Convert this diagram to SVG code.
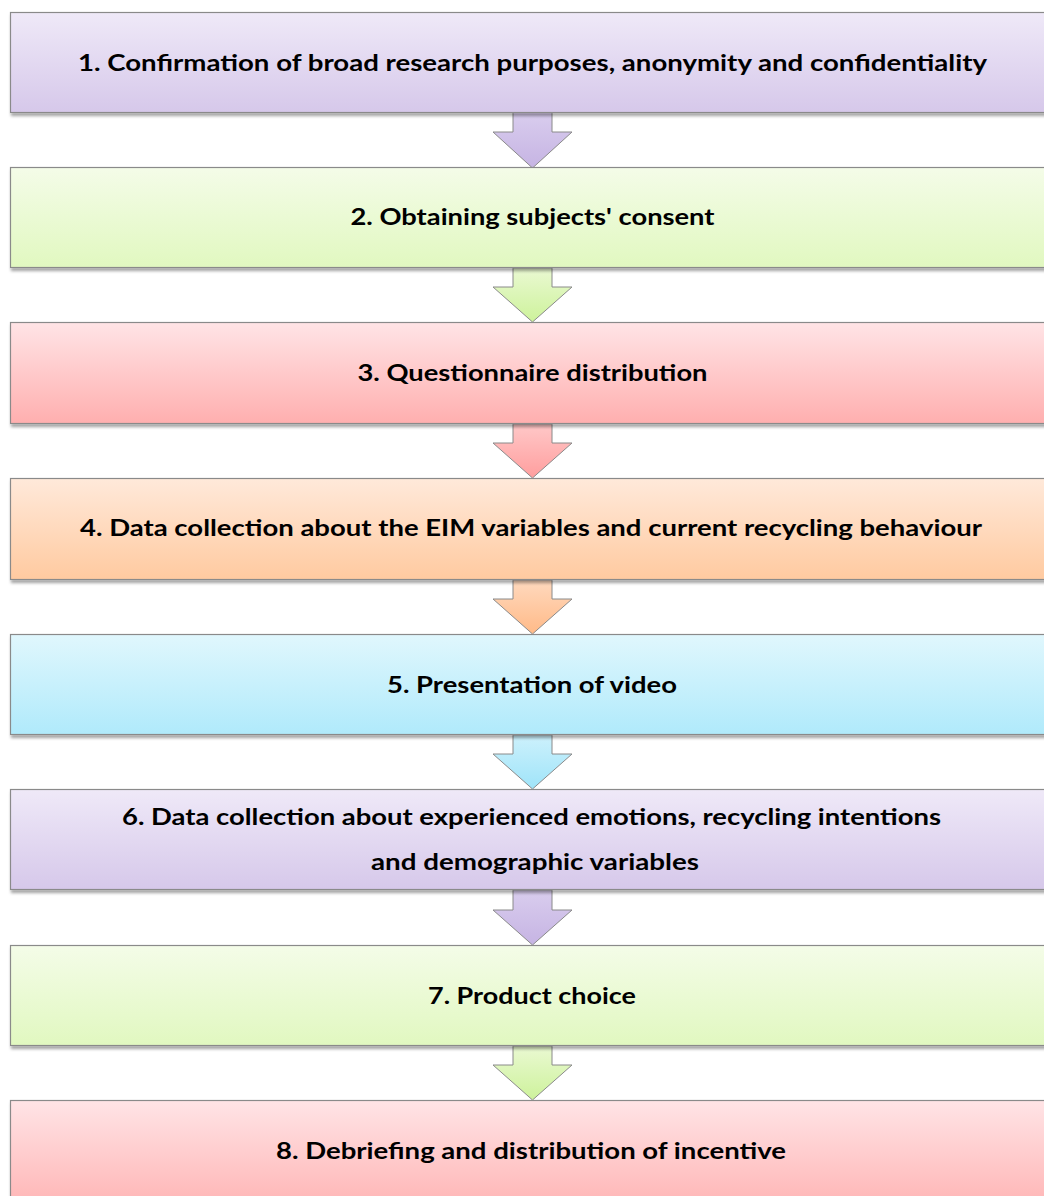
<svg xmlns="http://www.w3.org/2000/svg" width="1044" height="1196" viewBox="0 0 1044 1196">
<defs>
<linearGradient id="gPur" x1="0" y1="0" x2="0" y2="1"><stop offset="0" stop-color="#EFE9F8"/><stop offset="1" stop-color="#D6C8EA"/></linearGradient>
<linearGradient id="gGrn" x1="0" y1="0" x2="0" y2="1"><stop offset="0" stop-color="#F4FCE8"/><stop offset="1" stop-color="#E1F8C0"/></linearGradient>
<linearGradient id="gRed" x1="0" y1="0" x2="0" y2="1"><stop offset="0" stop-color="#FFE4E6"/><stop offset="1" stop-color="#FFAFAF"/></linearGradient>
<linearGradient id="gOra" x1="0" y1="0" x2="0" y2="1"><stop offset="0" stop-color="#FFE9DA"/><stop offset="1" stop-color="#FFCAA0"/></linearGradient>
<linearGradient id="gCya" x1="0" y1="0" x2="0" y2="1"><stop offset="0" stop-color="#E0F7FD"/><stop offset="1" stop-color="#B0EAFB"/></linearGradient>
<linearGradient id="aPur" x1="0" y1="0" x2="0" y2="1"><stop offset="0" stop-color="#D9CDEE"/><stop offset="1" stop-color="#C6B4E3"/></linearGradient>
<linearGradient id="aGrn" x1="0" y1="0" x2="0" y2="1"><stop offset="0" stop-color="#EAF9D2"/><stop offset="1" stop-color="#CDF29B"/></linearGradient>
<linearGradient id="aRed" x1="0" y1="0" x2="0" y2="1"><stop offset="0" stop-color="#FFC8C8"/><stop offset="1" stop-color="#FF9E9E"/></linearGradient>
<linearGradient id="aOra" x1="0" y1="0" x2="0" y2="1"><stop offset="0" stop-color="#FFD9BE"/><stop offset="1" stop-color="#FFBA88"/></linearGradient>
<linearGradient id="aCya" x1="0" y1="0" x2="0" y2="1"><stop offset="0" stop-color="#CDF1FC"/><stop offset="1" stop-color="#9FE4F9"/></linearGradient>
<filter id="sh" x="-5%" y="-20%" width="110%" height="150%">
<feDropShadow dx="1" dy="3" stdDeviation="1.5" flood-color="#000" flood-opacity="0.35"/>
</filter>
</defs>
<style>
.box{stroke:#8a8a8a;stroke-width:1.2;filter:url(#sh)}
.arr{stroke:#8a8a8a;stroke-width:1}
.t{font-family:Lato,"Liberation Sans",sans-serif;font-weight:bold;font-size:23px;fill:#000;text-anchor:middle}
</style>
<rect width="1044" height="1196" fill="#fff"/>
<g id="connectors">
<path class="arr" fill="url(#aPur)" d="M513,112 V132 H493 L532.5,168 L572,132 H552 V112 Z"/>
<path class="arr" fill="url(#aGrn)" d="M513,268 V287 H493 L532.5,322 L572,287 H552 V268 Z"/>
<path class="arr" fill="url(#aRed)" d="M513,424 V443 H493 L532.5,478 L572,443 H552 V424 Z"/>
<path class="arr" fill="url(#aOra)" d="M513,580 V599 H493 L532.5,634 L572,599 H552 V580 Z"/>
<path class="arr" fill="url(#aCya)" d="M513,735 V754 H493 L532.5,789 L572,754 H552 V735 Z"/>
<path class="arr" fill="url(#aPur)" d="M513,890 V910 H493 L532.5,945 L572,910 H552 V890 Z"/>
<path class="arr" fill="url(#aGrn)" d="M513,1046 V1065 H493 L532.5,1100 L572,1065 H552 V1046 Z"/>
</g>
<g id="step1"><rect class="box" x="10.5" y="12.5" width="1060" height="100" fill="url(#gPur)"/>
<text class="t" x="532.5" y="71" textLength="909" lengthAdjust="spacingAndGlyphs">1. Confirmation of broad research purposes, anonymity and confidentiality</text></g>
<g id="step2"><rect class="box" x="10.5" y="167.5" width="1060" height="100" fill="url(#gGrn)"/>
<text class="t" x="532.5" y="225" textLength="364" lengthAdjust="spacingAndGlyphs">2. Obtaining subjects' consent</text></g>
<g id="step3"><rect class="box" x="10.5" y="322.5" width="1060" height="101" fill="url(#gRed)"/>
<text class="t" x="532.5" y="381" textLength="350" lengthAdjust="spacingAndGlyphs">3. Questionnaire distribution</text></g>
<g id="step4"><rect class="box" x="10.5" y="478.5" width="1060" height="101" fill="url(#gOra)"/>
<text class="t" x="531" y="536" textLength="902" lengthAdjust="spacingAndGlyphs">4. Data collection about the EIM variables and current recycling behaviour</text></g>
<g id="step5"><rect class="box" x="10.5" y="634.5" width="1060" height="100" fill="url(#gCya)"/>
<text class="t" x="532" y="693" textLength="290" lengthAdjust="spacingAndGlyphs">5. Presentation of video</text></g>
<g id="step6"><rect class="box" x="10.5" y="789.5" width="1060" height="100" fill="url(#gPur)"/>
<text class="t" x="531.5" y="825" textLength="819" lengthAdjust="spacingAndGlyphs">6. Data collection about experienced emotions, recycling intentions</text>
<text class="t" x="535" y="870" textLength="328" lengthAdjust="spacingAndGlyphs">and demographic variables</text></g>
<g id="step7"><rect class="box" x="10.5" y="945.5" width="1060" height="100" fill="url(#gGrn)"/>
<text class="t" x="532" y="1004" textLength="208" lengthAdjust="spacingAndGlyphs">7. Product choice</text></g>
<g id="step8"><rect class="box" x="10.5" y="1100.5" width="1060" height="120" fill="url(#gRed)"/>
<text class="t" x="531" y="1159" textLength="510" lengthAdjust="spacingAndGlyphs">8. Debriefing and distribution of incentive</text></g>
</svg>
